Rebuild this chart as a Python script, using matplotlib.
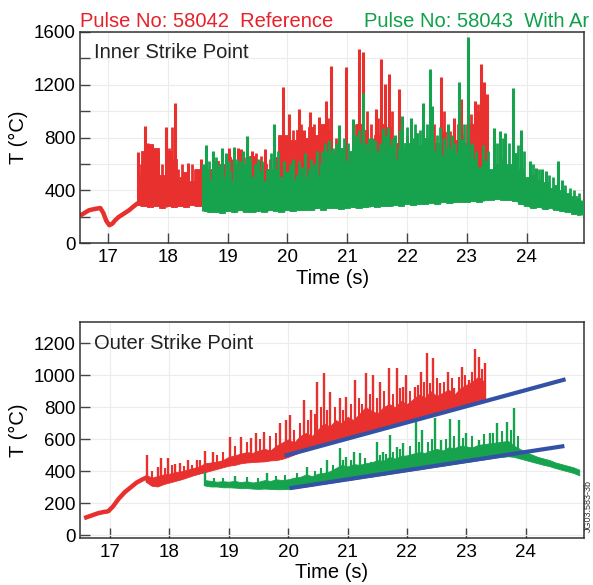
import numpy as np
import matplotlib
matplotlib.use("Agg")
import matplotlib.pyplot as plt

plt.rcParams['font.family'] = ['Liberation Sans', 'DejaVu Sans']

# ---------------- data ----------------
# Inner strike point, pulse 58042 (red): smooth early part
ir_pre_t = [16.53, 16.6, 16.68, 16.78, 16.87, 16.92, 16.97, 17.02, 17.07, 17.12, 17.18, 17.27, 17.35, 17.43, 17.5]
ir_pre_T = [208, 228, 250, 260, 267, 230, 170, 137, 148, 175, 200, 226, 250, 280, 305]
# red band 17.5 .. 23.3 s (0.1 s steps): lower / upper envelope
ir_lo = [290, 280, 275, 285, 270, 280, 275, 285, 275, 290, 280, 290, 295, 300, 290, 300, 295, 305, 300, 295,
         305, 300, 310, 305, 300, 310, 305, 300, 310, 315, 305, 310, 320, 315, 310, 320, 315, 325, 320, 315,
         325, 330, 320, 325, 330, 335, 330, 340, 335, 340, 345, 340, 350, 345, 350, 355, 350, 360, 355]
ir_hi = [520, 700, 750, 720, 520, 700, 640, 500, 540, 470, 560, 580, 560, 620, 600, 650, 600, 640, 580, 660,
         620, 600, 560, 650, 820, 820, 780, 860, 800, 880, 820, 900, 860, 700, 640, 560, 620, 900, 860, 700,
         820, 900, 880, 760, 720, 680, 700, 660, 640, 700, 760, 840, 700, 780, 820, 760, 900, 1000, 940]
ir_spk_t = [17.50, 17.62, 17.97, 18.12, 18.33, 18.55, 19.02, 19.18, 19.23, 19.40, 19.63, 19.92, 20.03, 20.19,
            20.27, 20.37, 20.52, 20.64, 20.73, 20.98, 21.20, 21.27, 21.48, 21.56, 21.63, 21.70, 21.86, 22.17,
            22.57, 22.78, 22.91, 23.13, 23.23, 23.28, 23.34]
ir_spk_T = [690, 890, 880, 1060, 610, 640, 720, 720, 710, 700, 710, 1180, 975, 1013,
            860, 990, 958, 1077, 1344, 1331, 1471, 1450, 1013, 1394, 1204, 1280, 1166, 835,
            1255, 950, 1090, 1077, 1356, 1217, 1130]
ir_min_t = [17.55, 17.67, 17.73, 17.83, 17.90, 18.02, 18.07, 18.17, 18.23, 18.28, 18.40, 18.45, 18.50, 19.08,
            19.30, 19.47, 19.55, 19.70, 20.10, 20.23, 20.33, 20.45, 20.58, 20.68, 20.82, 21.05, 21.15, 21.33,
            21.40, 21.52, 21.75, 21.90, 22.00, 22.30, 22.45, 22.62, 22.72, 22.85, 23.00, 23.07, 23.18]
ir_min_T = [600, 760, 740, 700, 600, 720, 880, 560, 600, 540, 600, 560, 540, 640,
            650, 680, 660, 640, 860, 900, 800, 900, 840, 950, 800, 700, 900, 1000,
            900, 950, 1000, 900, 820, 800, 900, 1000, 850, 900, 900, 980, 1050]

# Inner strike point, pulse 58043 (green): band 18.6 .. 24.9 s (0.1 s steps)
ig_lo = [245, 235, 240, 230, 245, 235, 250, 240, 235, 245, 240, 250, 245, 240, 250, 245, 255, 250, 255, 265,
         255, 265, 270, 260, 270, 275, 265, 275, 280, 275, 285, 280, 290, 285, 295, 290, 300, 295, 305, 300,
         310, 305, 310, 315, 310, 320, 315, 325, 330, 335, 330, 325, 320, 300, 285, 270, 275, 260, 265, 250,
         245, 235, 225, 215]
ig_hi = [520, 480, 560, 500, 540, 470, 560, 600, 500, 540, 470, 560, 560, 500, 540, 480, 520, 500, 560, 520,
         600, 700, 660, 720, 620, 700, 760, 680, 620, 700, 660, 740, 640, 720, 760, 680, 740, 800, 760, 700,
         660, 720, 680, 780, 740, 640, 580, 620, 560, 600, 640, 600, 680, 560, 500, 520, 480, 460, 420, 440,
         400, 380, 360, 340]
ig_spk_t = [18.58, 18.63, 18.75, 18.90, 18.97, 19.10, 19.25, 19.33, 19.50, 19.78, 20.10, 20.30, 20.50, 20.87,
            21.09, 21.26, 21.42, 21.59, 21.80, 21.92, 22.06, 22.17, 22.27, 22.39, 22.42, 22.69, 22.87, 23.02,
            23.45, 23.56, 23.64, 23.78, 23.91, 24.05, 24.15, 24.25, 24.32, 24.52, 24.59, 24.93]
ig_spk_T = [600, 747, 700, 720, 680, 730, 700, 810, 640, 900, 640, 680, 700, 892,
            937, 1140, 800, 875, 820, 962, 950, 835, 1064, 1318, 1040, 900, 1217, 1560,
            875, 850, 835, 1171, 860, 620, 570, 560, 550, 620, 480, 330]
ig_min_t = [18.68, 18.80, 18.85, 19.02, 19.15, 19.20, 19.38, 19.45, 19.58, 19.66, 19.72, 19.85, 19.95, 20.05,
            20.20, 20.25, 20.40, 20.45, 20.58, 20.62, 20.70, 20.77, 20.82, 20.95, 21.02, 21.15, 21.20, 21.32,
            21.36, 21.47, 21.55, 21.65, 21.68, 21.75, 21.88, 22.00, 22.10, 22.13, 22.22, 22.33, 22.50, 22.55,
            22.62, 22.75, 22.80, 22.95, 23.08, 23.15, 23.27, 23.35, 23.50, 23.60, 23.70, 23.85, 23.95, 24.10,
            24.20, 24.38, 24.45, 24.65, 24.72, 24.80, 24.87]
ig_min_T = [620, 650, 600, 620, 640, 620, 650, 600, 620, 560, 680, 700, 620, 600,
            620, 580, 640, 600, 700, 760, 780, 720, 760, 800, 760, 820, 860, 760,
            800, 780, 760, 820, 880, 800, 860, 880, 800, 900, 860, 900, 820, 880,
            800, 820, 760, 900, 760, 700, 740, 700, 760, 800, 760, 740, 700, 600,
            560, 520, 500, 440, 420, 400, 380]

# Outer strike point, pulse 58042 (red)
or_pre_t = [16.6, 16.7, 16.8, 16.9, 16.97, 17.05, 17.15, 17.25, 17.35, 17.45, 17.55, 17.6]
or_pre_T = [112, 125, 138, 146, 150, 180, 230, 270, 300, 330, 350, 358]
# band 17.6 .. 23.3 s (0.1 s steps)
or_lo = [335, 310, 305, 320, 330, 340, 350, 362, 375, 385, 395, 405, 415, 425, 435, 440, 450, 455, 458, 460,
         462, 468, 470, 478, 490, 505, 520, 528, 545, 553, 566, 574, 586, 594, 608, 614, 628, 634, 648, 654,
         668, 674, 688, 694, 708, 714, 728, 734, 748, 754, 768, 774, 788, 794, 808, 814, 828, 836]
or_hi = [380, 360, 370, 380, 385, 395, 400, 410, 420, 430, 450, 455, 460, 470, 490, 500, 510, 520, 515, 530,
         540, 530, 560, 580, 600, 580, 620, 640, 620, 660, 700, 680, 720, 700, 740, 720, 760, 800, 780, 760,
         800, 820, 800, 840, 820, 850, 880, 860, 900, 870, 890, 910, 880, 920, 940, 960, 990, 960]
or_spk_t = [17.62, 17.80, 17.86, 17.98, 18.10, 18.18, 18.32, 18.46, 18.60, 18.73, 19.02, 19.20, 19.37, 19.46,
            19.60, 19.86, 19.96, 20.03, 20.27, 20.39, 20.49, 20.61, 20.71, 20.88, 20.98, 21.13, 21.31, 21.43,
            21.55, 21.69, 21.83, 21.94, 21.99, 22.13, 22.23, 22.33, 22.44, 22.55, 22.69, 22.80, 22.93, 23.05,
            23.15, 23.22, 23.32]
or_spk_T = [502, 429, 481, 481, 448, 450, 470, 470, 527, 523, 616, 616, 606, 637,
            648, 700, 721, 752, 846, 783, 960, 1012, 898, 856, 867, 971, 1012, 1002,
            960, 1044, 1044, 929, 1002, 929, 1023, 1137, 1106, 950, 1023, 919, 1054, 971,
            1162, 1117, 1079]
or_min_t = [17.70, 17.92, 18.04, 18.25, 18.38, 18.52, 18.80, 18.90, 19.10, 19.30, 19.52, 19.70, 19.80, 20.10,
            20.20, 20.34, 20.45, 20.55, 20.66, 20.78, 20.93, 21.05, 21.20, 21.25, 21.37, 21.50, 21.62, 21.76,
            21.88, 22.05, 22.18, 22.28, 22.38, 22.50, 22.62, 22.75, 22.87, 22.98, 23.10, 23.26]
or_min_T = [400, 420, 440, 430, 440, 470, 500, 520, 560, 580, 600, 620, 640, 660,
            700, 720, 760, 800, 780, 800, 780, 820, 860, 820, 880, 860, 900, 880,
            920, 900, 940, 960, 950, 980, 960, 980, 990, 1000, 1020, 1040]

# Outer strike point, pulse 58043 (green): band 18.6 .. 24.9 s (0.1 s steps)
og_lo = [310, 305, 305, 300, 300, 298, 295, 295, 292, 290, 292, 290, 288, 288, 290, 295, 300, 305, 310, 318,
         322, 328, 333, 340, 345, 350, 356, 362, 367, 373, 378, 385, 390, 396, 402, 407, 412, 418, 424, 430,
         435, 441, 447, 452, 458, 463, 469, 474, 480, 486, 490, 494, 490, 480, 470, 460, 450, 440, 432, 420,
         410, 400, 390, 375]
og_hi = [345, 340, 335, 338, 335, 340, 332, 338, 330, 335, 345, 340, 350, 345, 350, 360, 365, 380, 370, 385,
         390, 400, 420, 440, 430, 445, 440, 450, 455, 470, 465, 490, 480, 495, 500, 510, 520, 515, 530, 540,
         530, 550, 545, 560, 555, 550, 565, 570, 575, 580, 585, 590, 560, 540, 520, 505, 490, 480, 470, 455,
         445, 435, 425, 410]
og_spk_t = [18.60, 19.10, 19.65, 20.32, 20.66, 20.87, 20.98, 21.10, 21.21, 21.40, 21.49, 21.60, 21.71, 21.83,
            21.94, 22.16, 22.25, 22.48, 22.58, 22.73, 22.88, 23.00, 23.22, 23.39, 23.51, 23.68, 23.81]
og_spk_T = [398, 370, 388, 429, 470, 544, 492, 523, 513, 460, 585, 523, 627, 554,
            575, 710, 658, 731, 596, 725, 721, 637, 596, 637, 700, 710, 794]
og_min_t = [18.75, 18.90, 19.30, 19.50, 19.80, 19.95, 20.15, 20.45, 20.55, 20.75, 20.93, 21.05, 21.30, 21.55,
            21.65, 21.77, 21.88, 22.05, 22.20, 22.35, 22.42, 22.65, 22.80, 22.95, 23.10, 23.30, 23.45, 23.60,
            23.75, 23.87]
og_min_T = [360, 360, 365, 360, 370, 375, 390, 400, 420, 440, 470, 470, 480, 500,
            510, 520, 540, 560, 580, 580, 600, 600, 620, 610, 620, 630, 640, 650,
            660, 620]

# trend lines (blue)
trend1_t = [19.94, 24.67]
trend1_T = [497, 975]
trend2_t = [20.02, 24.65]
trend2_T = [294, 558]

# tick labels
xticks = [17, 18, 19, 20, 21, 22, 23, 24]
yticks_inner = [0, 400, 800, 1200, 1600]
yticks_outer = [0, 200, 400, 600, 800, 1000, 1200]

# ---------------- drawing ----------------
RED = '#e8302e'
GREEN = '#17a34e'
BLUE = '#3352a6'

fig = plt.figure(figsize=(5.93, 5.85), dpi=100)
ax1 = fig.add_axes([0.1349, 0.5841, 0.8504, 0.3617])
ax2 = fig.add_axes([0.1344, 0.0803, 0.8504, 0.3693])


def band(ax, t0, t1, lo, hi, color, z, step=None):
    t = np.linspace(t0, t1, len(lo))
    ax.fill_between(t, lo, hi, color=color, lw=0.6, zorder=z, step=step)
    return t


def spikes(ax, t_band, lo, st, sT, color, z, w=2.0):
    base = np.interp(st, t_band, lo)
    ax.vlines(st, base, sT, color=color, lw=w, zorder=z)


# inner
ax1.plot(ir_pre_t, ir_pre_T, color=RED, lw=3.2, solid_capstyle='butt', zorder=2)
tb = band(ax1, 17.5, 23.3, ir_lo, ir_hi, RED, 2, step='mid')
spikes(ax1, tb, ir_lo, ir_min_t, ir_min_T, RED, 2, w=2.0)
spikes(ax1, tb, ir_lo, ir_spk_t, ir_spk_T, RED, 2, w=2.2)
tb = band(ax1, 18.6, 24.9, ig_lo, ig_hi, GREEN, 3, step='mid')
spikes(ax1, tb, ig_lo, ig_min_t, ig_min_T, GREEN, 3, w=2.0)
spikes(ax1, tb, ig_lo, ig_spk_t, ig_spk_T, GREEN, 3, w=2.2)

# outer
ax2.plot(or_pre_t, or_pre_T, color=RED, lw=3.2, zorder=2)
tb = band(ax2, 17.6, 23.3, or_lo, or_hi, RED, 2)
spikes(ax2, tb, or_lo, or_min_t, or_min_T, RED, 2, w=1.5)
spikes(ax2, tb, or_lo, or_spk_t, or_spk_T, RED, 2, w=1.7)
tb = band(ax2, 18.6, 24.9, og_lo, og_hi, GREEN, 3)
spikes(ax2, tb, og_lo, og_min_t, og_min_T, GREEN, 3, w=1.5)
spikes(ax2, tb, og_lo, og_spk_t, og_spk_T, GREEN, 3, w=1.7)
ax2.plot(trend1_t, trend1_T, color=BLUE, lw=3.0, solid_capstyle='butt', zorder=5)
ax2.plot(trend2_t, trend2_T, color=BLUE, lw=3.0, solid_capstyle='butt', zorder=5)

ax1.set_xlim(16.53, 24.965)
ax1.set_ylim(0, 1600)
ax2.set_xlim(16.49, 24.98)
ax2.set_ylim(-17, 1333)

ax1.set_yticks(yticks_inner)
ax1.set_yticks(np.arange(0, 1601, 200), minor=True)
ax2.set_yticks(yticks_outer)

for ax in (ax1, ax2):
    ax.set_xticks(xticks)
    ax.tick_params(axis='both', which='both', direction='in', length=7, width=1,
                   color='#444444', labelsize=13.5, pad=4, top=False, right=False)
    ax.tick_params(axis='y', pad=3)
    ax.grid(True, which='both', color='#ececec', lw=0.8, zorder=0)
    ax.set_axisbelow(True)
    for s in ax.spines.values():
        s.set_color('#333333')
        s.set_linewidth(1.1)
    ax.set_xlabel('Time (s)', fontsize=14.5, labelpad=2)
    ax.set_ylabel('T (°C)', fontsize=14.5, labelpad=4)

ax1.text(0.028, 0.874, 'Inner Strike Point', transform=ax1.transAxes, fontsize=14.5, color='#222222')
ax2.text(0.028, 0.874, 'Outer Strike Point', transform=ax2.transAxes, fontsize=14.5, color='#222222')

fig.text(0.135, 0.954, 'Pulse No: 58042  Reference', color='#e8202a', fontsize=14.5, va='baseline')
fig.text(0.613, 0.954, 'Pulse No: 58043  With Ar', color='#10a04a', fontsize=14.5, va='baseline')
fig.text(0.9916, 0.135, 'JG03.583-3b', rotation=90, fontsize=6.5, ha='center', va='center', color='#333333')

fig.savefig('out.png', dpi=100)
